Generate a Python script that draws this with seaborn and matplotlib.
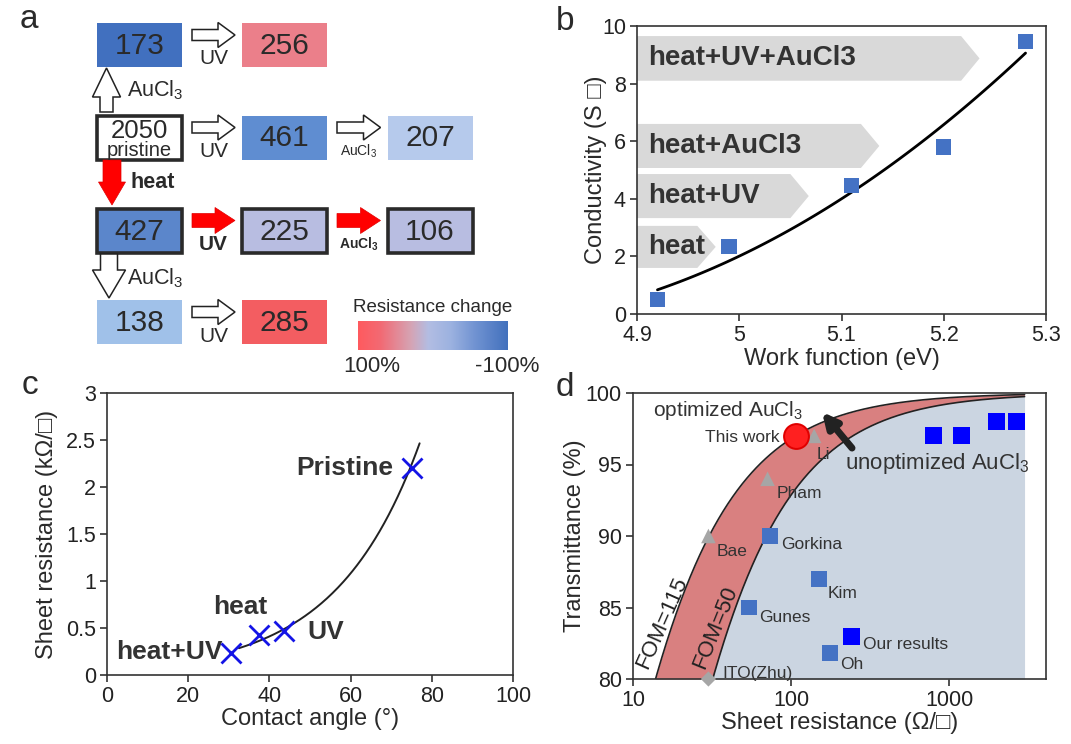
import numpy as np
import seaborn as sns
import matplotlib.pyplot as plt
from matplotlib.patches import Rectangle, FancyArrow, Polygon
from matplotlib.colors import LinearSegmentedColormap

# panel a: sheet resistance (ohm/sq) after each treatment step
a_values = ["173", "256", "2050", "461", "207", "427", "225", "106", "138", "285"]
a_rows = [0, 0, 1, 1, 1, 2, 2, 2, 3, 3]
a_cols = [0, 1, 0, 1, 2, 0, 1, 2, 0, 1]
a_framed = [False, False, True, False, False, True, True, True, False, False]
a_fills = ["#4170bf", "#eb7f8a", "#ffffff", "#5f8dd1", "#b6caec",
           "#5b86cb", "#b8bde1", "#b8bde1", "#a0c1e9", "#f35d61"]

# panel b: conductivity vs work function
wf = [4.92, 4.99, 5.11, 5.20, 5.28]
cond = [0.5, 2.35, 4.45, 5.8, 9.45]
b_labels = ["heat", "heat+UV", "heat+AuCl3", "heat+UV+AuCl3"]
b_low = [1.6, 3.33, 5.07, 8.1]
b_high = [3.06, 4.86, 6.6, 9.65]
b_tip = [4.977, 5.068, 5.137, 5.235]

# panel c: sheet resistance vs contact angle
c_labels = ["heat+UV", "heat", "UV", "Pristine"]
angle = [30.5, 37.5, 43.5, 75.0]
rsheet = [0.23, 0.43, 0.47, 2.2]

# panel d: transmittance vs sheet resistance
fom_values = [115, 50]
tri_names = ["Li", "Pham", "Bae"]
tri_rs = [140, 71, 30]
tri_t = [97, 94, 90]
ito_rs = [30]
ito_t = [80]
lit_names = ["Gorkina", "Kim", "Gunes", "Oh"]
lit_rs = [74, 150, 54, 177]
lit_t = [90, 87, 85, 81.8]
our_rs = [240, 800, 1190, 1980, 2650]
our_t = [83, 97, 97, 98, 98]
this_rs = [107]
this_t = [97]

sns.set_theme(style="ticks")
plt.rcParams['font.family'] = ['Liberation Sans', 'DejaVu Sans']
plt.rcParams['mathtext.fontset'] = 'custom'
plt.rcParams['mathtext.rm'] = 'Liberation Sans'
plt.rcParams['mathtext.it'] = 'Liberation Sans:italic'
plt.rcParams['mathtext.bf'] = 'Liberation Sans:bold'
plt.rcParams['axes.edgecolor'] = '#333333'
plt.rcParams['axes.linewidth'] = 1.2
plt.rcParams['xtick.color'] = '#333333'
plt.rcParams['ytick.color'] = '#333333'
plt.rcParams['xtick.labelcolor'] = '#222222'
plt.rcParams['ytick.labelcolor'] = '#222222'

W, H = 1071, 744
fig = plt.figure(figsize=(W / 100, H / 100), dpi=100)


def px_axes(left, top, right, bottom):
    return fig.add_axes([left / W, 1 - bottom / H, (right - left) / W, (bottom - top) / H])


def style_axes(ax):
    ax.tick_params(direction='out', length=5, width=1.2, labelsize=15.5, pad=3)
    for s in ax.spines.values():
        s.set_linewidth(1.2)


TXT = '#2a2a2a'
LAB = 17

# ---------------- a ----------------
axa = px_axes(0, 0, 540, 370)
col_x = [139.5, 284.5, 430]
row_y = [45, 137.5, 230.5, 322]
bw, bh = 85, 44
for v, r, c, fr, fc in zip(a_values, a_rows, a_cols, a_framed, a_fills):
    cx, cy = col_x[c], row_y[r]
    axa.add_patch(Rectangle((cx - bw / 2, cy - bh / 2), bw, bh, facecolor=fc,
                            edgecolor='#2a2a2a' if fr else 'none', lw=2.6 if fr else 0))
    if v == "2050":
        axa.text(cx, cy - 7, v, ha='center', va='center', fontsize=18.5, color=TXT)
        axa.text(cx, cy + 13, "pristine", ha='center', va='center', fontsize=14.5, color=TXT)
    else:
        axa.text(cx, cy + 1, v, ha='center', va='center', fontsize=21.5, color=TXT)

h_arrows = [(0, 0, "UV", False), (1, 0, "UV", False), (1, 1, "AuCl$_3$", False),
            (2, 0, "UV", True), (2, 1, r"AuCl$_\mathbf{3}$", True), (3, 0, "UV", False)]
for r, c, lab, red in h_arrows:
    x0 = col_x[c] + bw / 2 + 10
    x1 = col_x[c + 1] - bw / 2 - 7
    y = row_y[r] - 10
    if red:
        axa.add_patch(FancyArrow(x0, y, x1 - x0, 0, width=14, head_width=26, head_length=20,
                                 length_includes_head=True, facecolor='#ff0000', edgecolor='#e00000', lw=0.5))
    else:
        axa.add_patch(FancyArrow(x0, y, x1 - x0, 0, width=11, head_width=25, head_length=17,
                                 length_includes_head=True, facecolor='white', edgecolor='#222222', lw=1.1))
    small = lab != "UV"
    axa.text((x0 + x1) / 2, row_y[r] + 14, lab, ha='center', va='center',
             fontsize=10 if small else 15, fontweight='bold' if red else 'normal', color=TXT)

# vertical arrows
axa.add_patch(FancyArrow(106.5, 112, 0, -44, width=13, head_width=28, head_length=29,
                         length_includes_head=True, facecolor='white', edgecolor='#222222', lw=1.1))
axa.text(127, 90, "AuCl$_3$", ha='left', va='center', fontsize=15.5, color=TXT)
axa.add_patch(FancyArrow(112, 160, 0, 45, width=18, head_width=27, head_length=23,
                         length_includes_head=True, facecolor='#ff0000', edgecolor='#e00000', lw=0.5))
axa.text(130, 182, "heat", ha='left', va='center', fontsize=15.5, fontweight='bold', color=TXT)
axa.add_patch(FancyArrow(109, 254, 0, 44, width=17, head_width=33, head_length=28,
                         length_includes_head=True, facecolor='white', edgecolor='#222222', lw=1.1))
axa.text(127, 278, "AuCl$_3$", ha='left', va='center', fontsize=15.5, color=TXT)

# colour bar
cbar_cmap = LinearSegmentedColormap.from_list(
    "resist", [(0, '#ff5a5e'), (0.15, '#f26a74'), (0.35, '#d6a3b3'), (0.47, '#b3bde3'),
               (0.62, '#9cb2e0'), (0.78, '#7193d2'), (1, '#4271bd')])
axa.imshow(np.linspace(0, 1, 256)[None, :], cmap=cbar_cmap, aspect='auto',
           extent=(358, 508, 350, 321))
axa.text(433, 307, "Resistance change", ha='center', va='center', fontsize=13.5, color=TXT)
axa.text(372, 366, "100%", ha='center', va='center', fontsize=16, color=TXT)
axa.text(507, 366, "-100%", ha='center', va='center', fontsize=16, color=TXT)
axa.set_xlim(0, 540)
axa.set_ylim(370, 0)
axa.axis('off')

# ---------------- b ----------------
axb = px_axes(637, 26, 1046, 314)
for lab, lo, hi, tip in zip(b_labels, b_low, b_high, b_tip):
    mid = (lo + hi) / 2
    body = tip - 0.018
    axb.add_patch(Polygon([(4.9, lo), (body, lo), (tip, mid), (body, hi), (4.9, hi)],
                          closed=True, facecolor='#d9d9d9', edgecolor='none', zorder=1))
    axb.text(4.911, mid, lab, ha='left', va='center', fontsize=20, fontweight='bold',
             color='#333333', zorder=2)
sns.regplot(x=wf, y=cond, order=2, ci=None, scatter=False, ax=axb,
            line_kws=dict(color='black', lw=2, zorder=3))
sns.scatterplot(x=wf, y=cond, marker='s', s=120, color='#4472c4', edgecolor='none',
                ax=axb, zorder=4)
axb.set_xlim(4.9, 5.3)
axb.set_ylim(0, 10)
axb.set_xticks([4.9, 5.0, 5.1, 5.2, 5.3])
axb.set_xticklabels(["4.9", "5", "5.1", "5.2", "5.3"])
axb.set_yticks([0, 2, 4, 6, 8, 10])
axb.set_xlabel("Work function (eV)", fontsize=LAB, color=TXT, labelpad=1)
axb.set_ylabel("Conductivity (S \u25a1)", fontsize=LAB, color=TXT, labelpad=-4)
style_axes(axb)

# ---------------- c ----------------
axc = px_axes(107, 393, 513, 675)
fit = np.polyfit(angle, np.log(rsheet), 1)
xs = np.linspace(min(angle) + 2, max(angle) + 2, 200)
sns.lineplot(x=xs, y=np.exp(np.polyval(fit, xs)), color='#222222', lw=1.4, ax=axc)
axc.plot(angle, rsheet, 'x', ms=15, mew=2, color='#1414e6', zorder=4)
c_pos = [(28.5, 0.24, 'right'), (32.8, 0.72, 'center'), (49.3, 0.46, 'left'), (70.5, 2.2, 'right')]
for lab, (tx, ty, ha) in zip(c_labels, c_pos):
    axc.text(tx, ty, lab, ha=ha, va='center', fontsize=19, fontweight='bold', color='#333333')
axc.set_xlim(0, 100)
axc.set_ylim(0, 3)
axc.set_xticks([0, 20, 40, 60, 80, 100])
axc.set_yticks([0, 0.5, 1, 1.5, 2, 2.5, 3])
axc.set_yticklabels(["0", "0.5", "1", "1.5", "2", "2.5", "3"])
axc.set_xlabel("Contact angle (\u00b0)", fontsize=LAB, color=TXT, labelpad=1)
axc.set_ylabel("Sheet resistance (k\u03a9/\u25a1)", fontsize=LAB, color=TXT, labelpad=6)
style_axes(axc)

# ---------------- d ----------------
axd = px_axes(633, 393, 1046, 679)
axd.set_xscale('log')
rs = np.logspace(1, np.log10(3000), 500)
t_hi = 100 * (1 + 188.5 / (fom_values[0] * rs)) ** -2
t_lo = 100 * (1 + 188.5 / (fom_values[1] * rs)) ** -2
axd.fill_between(rs, np.maximum(t_lo, 80), t_hi, where=t_hi >= 80, interpolate=True,
                 color='#d98080', lw=0, zorder=1)
axd.fill_between(rs, 80, t_lo, where=t_lo >= 80, interpolate=True,
                 color='#cbd5e1', lw=0, zorder=1)
for t in (t_hi, t_lo):
    sns.lineplot(x=rs, y=t, color='#222222', lw=1.2, ax=axd, zorder=2)

sns.scatterplot(x=tri_rs, y=tri_t, marker='^', s=110, color='#a6a6a6', edgecolor='none', ax=axd, zorder=3)
sns.scatterplot(x=ito_rs, y=ito_t, marker='D', s=60, color='#a6a6a6', edgecolor='none', ax=axd,
                zorder=3, clip_on=False)
sns.scatterplot(x=lit_rs, y=lit_t, marker='s', s=130, color='#4472c4', edgecolor='none', ax=axd, zorder=3)
sns.scatterplot(x=our_rs, y=our_t, marker='s', s=150, color='#0000ff', edgecolor='none', ax=axd, zorder=3)
sns.scatterplot(x=this_rs, y=this_t, marker='o', s=320, color='#ff2020', edgecolor='#e00000', ax=axd, zorder=4)

d_txt = [("optimized AuCl$_3$", 13.4, 98.8, 15), ("This work", 85, 96.9, 12.5),
         ("Li", 146, 95.7, 12.5), ("unoptimized AuCl$_3$", 219, 95.1, 16),
         ("Pham", 81.5, 93.0, 12.5), ("Bae", 34, 88.9, 12.5), ("Gorkina", 86.5, 89.4, 12.5),
         ("Kim", 171, 86.0, 12.5), ("Gunes", 62.7, 84.3, 12.5), ("Our results", 286, 82.4, 12.5),
         ("Oh", 204, 81.0, 12.5), ("ITO(Zhu)", 37, 80.4, 12.5)]
for lab, tx, ty, fs in d_txt:
    axd.text(tx, ty, lab, ha='right' if lab == "This work" else 'left', va='center',
             fontsize=fs, color='#333333', zorder=5)
axd.text(15.2, 83.9, "FOM=115", rotation=66, ha='center', va='center', fontsize=16, color='#222222', zorder=5)
axd.text(33, 83.6, "FOM=50", rotation=68, ha='center', va='center', fontsize=16, color='#222222', zorder=5)
axd.annotate("", xy=(157, 98.67), xytext=(243, 96.15),
             arrowprops=dict(arrowstyle='-|>', lw=5, color='#222222', mutation_scale=22, shrinkA=0, shrinkB=0),
             zorder=5)
axd.set_xlim(10, 4100)
axd.set_ylim(80, 100)
axd.set_xticks([10, 100, 1000])
axd.set_xticklabels(["10", "100", "1000"])
axd.minorticks_off()
axd.set_yticks([80, 85, 90, 95, 100])
axd.set_xlabel("Sheet resistance (\u03a9/\u25a1)", fontsize=LAB, color=TXT, labelpad=1)
axd.set_ylabel("Transmittance (%)", fontsize=LAB, color=TXT, labelpad=0)
style_axes(axd)

# panel letters
for letter, x, y in [("a", 29, 20), ("b", 565, 22), ("c", 30, 385), ("d", 565, 387)]:
    fig.text(x / W, 1 - y / H, letter, ha='center', va='center', fontsize=24, color=TXT)

fig.savefig("out.png", dpi=100)
